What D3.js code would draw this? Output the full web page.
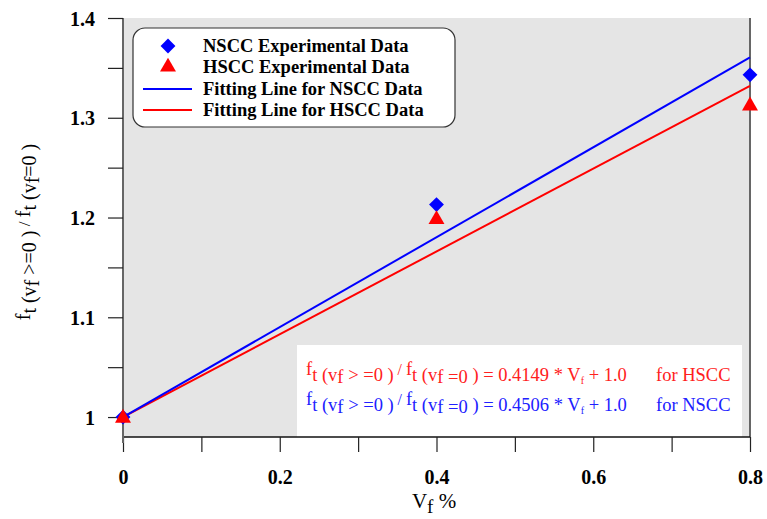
<!DOCTYPE html>
<html>
<head>
<meta charset="utf-8">
<script src="https://cdn.jsdelivr.net/npm/d3@7"></script>
<style>
  body { margin: 0; background: #fff; }
  svg { display: block; }
  text { font-family: "Liberation Serif", "Times New Roman", serif; }
  .tick text { font-size: 20px; font-weight: bold; fill: #000; }
  .tick line { stroke: #222; stroke-width: 1.2; }
</style>
</head>
<body>
<svg id="chart" width="767" height="519"></svg>
<script>
// values
const vf = [0, 0.4, 0.8]
const nscc = [1.0, 1.213, 1.343]
const hscc = [1.0, 1.199, 1.313]
const fitSlope = { nscc: 0.4506, hscc: 0.4149 }
const xTicks = [0, 0.1, 0.2, 0.3, 0.4, 0.5, 0.6, 0.7, 0.8]
const yTicks = [1.0, 1.05, 1.1, 1.15, 1.2, 1.25, 1.3, 1.35, 1.4]
const legendLabels = ['NSCC Experimental Data', 'HSCC Experimental Data', 'Fitting Line for NSCC Data', 'Fitting Line for HSCC Data']

const svg = d3.select('#chart')
const m = { left: 123, right: 750, top: 18, bottom: 437 }

const x = d3.scaleLinear().domain([0, 0.8]).range([m.left, m.right])
const y = d3.scaleLinear().domain([0.98, 1.4]).range([m.bottom, m.top])

// plot background
svg.append('rect')
    .attr('x', m.left).attr('y', m.top)
    .attr('width', m.right - m.left).attr('height', m.bottom - m.top)
    .attr('fill', '#e5e5e5')

// equation box
svg.append('rect')
    .attr('x', 297).attr('y', 345)
    .attr('width', 445).attr('height', m.bottom - 345)
    .attr('fill', '#fff')

// right border
svg.append('line')
    .attr('x1', m.right).attr('x2', m.right)
    .attr('y1', m.top).attr('y2', m.bottom)
    .attr('stroke', '#666').attr('stroke-width', 2)

// axes
const isMajor = d => Math.abs(d * 10 - Math.round(d * 10)) < 1e-6 && Math.round(d * 10) % 2 === 0
const xAxis = d3.axisBottom(x)
    .tickValues(xTicks)
    .tickSize(15)
    .tickPadding(18)
    .tickFormat(d => isMajor(d) ? String(+d.toFixed(1)) : '')

const isMajorY = d => Math.abs(d * 10 - Math.round(d * 10)) < 1e-6
const yAxis = d3.axisLeft(y)
    .tickValues(yTicks)
    .tickSize(15)
    .tickPadding(13)
    .tickFormat(d => isMajorY(d) ? String(+d.toFixed(1)) : '')

svg.append('g')
    .attr('transform', `translate(0, ${m.bottom})`)
    .call(xAxis)
    .attr('font-family', null).attr('font-size', null)
    .call(g => g.select('.domain').attr('stroke', '#111').attr('stroke-width', 1.5).attr('d', `M${m.left},0H${m.right}`))

svg.append('g')
    .attr('transform', `translate(${m.left}, 0)`)
    .call(yAxis)
    .attr('font-family', null).attr('font-size', null)
    .call(g => g.select('.domain').attr('stroke', '#666').attr('stroke-width', 2).attr('d', `M0,${m.top}V${m.bottom + 6}`))
    .call(g => g.selectAll('.tick text').attr('dy', '0.35em'))

// fitting lines
const fitLine = slope => d3.line()
    .x(d => x(d))
    .y(d => y(slope * d + 1.0))

svg.append('path')
    .attr('d', fitLine(fitSlope.hscc)([0, 0.8]))
    .attr('stroke', '#ff0000').attr('stroke-width', 2).attr('fill', 'none')
svg.append('path')
    .attr('d', fitLine(fitSlope.nscc)([0, 0.8]))
    .attr('stroke', '#0000ff').attr('stroke-width', 2).attr('fill', 'none')

// markers
const diamond = d3.symbol().type(d3.symbolSquare).size(110)
const triangle = d3.symbol().type(d3.symbolTriangle).size(110)

svg.append('g').selectAll('path')
    .data(vf.map((v, i) => [v, nscc[i]]))
    .join('path')
    .attr('d', diamond)
    .attr('transform', d => `translate(${x(d[0])},${y(d[1])}) rotate(45)`)
    .attr('fill', '#0000ff')

svg.append('g').selectAll('path')
    .data(vf.map((v, i) => [v, hscc[i]]))
    .join('path')
    .attr('d', triangle)
    .attr('transform', d => `translate(${x(d[0])},${y(d[1]) + 1})`)
    .attr('fill', '#ff0000')

// legend
const leg = svg.append('g')
leg.append('rect')
    .attr('x', 133).attr('y', 28).attr('width', 322).attr('height', 99)
    .attr('rx', 12)
    .attr('fill', '#fff').attr('stroke', '#333').attr('stroke-width', 1.2)

const legY = [46, 67, 89, 110]
leg.append('path').attr('d', diamond)
    .attr('transform', `translate(168,${legY[0]}) rotate(45)`).attr('fill', '#0000ff')
leg.append('path').attr('d', triangle)
    .attr('transform', `translate(168,${legY[1]})`).attr('fill', '#ff0000')
leg.append('line').attr('x1', 143).attr('x2', 192).attr('y1', legY[2]).attr('y2', legY[2])
    .attr('stroke', '#0000ff').attr('stroke-width', 2)
leg.append('line').attr('x1', 143).attr('x2', 192).attr('y1', legY[3]).attr('y2', legY[3])
    .attr('stroke', '#ff0000').attr('stroke-width', 2)
leg.selectAll('text.lab')
    .data(legendLabels)
    .join('text')
    .attr('class', 'lab')
    .attr('x', 203)
    .attr('y', (d, i) => legY[i])
    .attr('dy', '0.35em')
    .attr('font-size', 18.5)
    .attr('font-weight', 'bold')
    .text(d => d)

// ratio label with nested subscripts
function ratio(t, size, spaced) {
    const s1 = size
    const add = (txt, fs, dy) => {
        const ts = t.append('tspan').attr('font-size', fs).text(txt)
        if (dy) ts.attr('dy', dy)
    }
    add('f', size, 0)
    add('t (v', s1, size * 0.3)
    add('f', s1, size * 0.15)
    add(spaced ? ' > =0 )' : ' >=0 )', s1, -size * 0.15)
    add(' / ', s1 * 0.85, -size * 0.3)
    add('f', size, 0)
    add('t (v', s1, size * 0.3)
    add(spaced ? 'f =0' : 'f', s1, size * 0.15)
    if (spaced) add(' )', s1, -size * 0.15)
    else add('=0 )', s1, -size * 0.15)
    t.append('tspan').attr('font-size', size).attr('dy', -size * 0.3).text('')
}

// y axis title
const yt = svg.append('text')
    .attr('transform', 'translate(30, 232) rotate(-90)')
    .attr('text-anchor', 'middle')
    .attr('font-size', 20)
ratio(yt, 20, false)

// x axis title
const xt = svg.append('text')
    .attr('x', 434).attr('y', 508)
    .attr('text-anchor', 'middle')
    .attr('font-size', 21)
xt.append('tspan').text('V')
xt.append('tspan').attr('font-size', 19).attr('dy', 5).text('f')
xt.append('tspan').attr('dy', -5).text(' %')

// equations
const eqs = [
    { slope: fitSlope.hscc, name: 'HSCC', color: '#ff2020', y: 375 },
    { slope: fitSlope.nscc, name: 'NSCC', color: '#2020ff', y: 405 }
]
eqs.forEach(e => {
    const t = svg.append('text')
        .attr('x', 306).attr('y', e.y)
        .attr('font-size', 18.5)
        .attr('fill', e.color)
    ratio(t, 18.5, true)
    t.append('tspan').text(` = ${e.slope.toFixed(4)} * V`)
    t.append('tspan').attr('font-size', 10).attr('dy', 3).text('f')
    t.append('tspan').attr('dy', -3).text(' + 1.0')
    t.append('tspan').attr('x', 656).text(`for ${e.name}`)
})
</script>
</body>
</html>
